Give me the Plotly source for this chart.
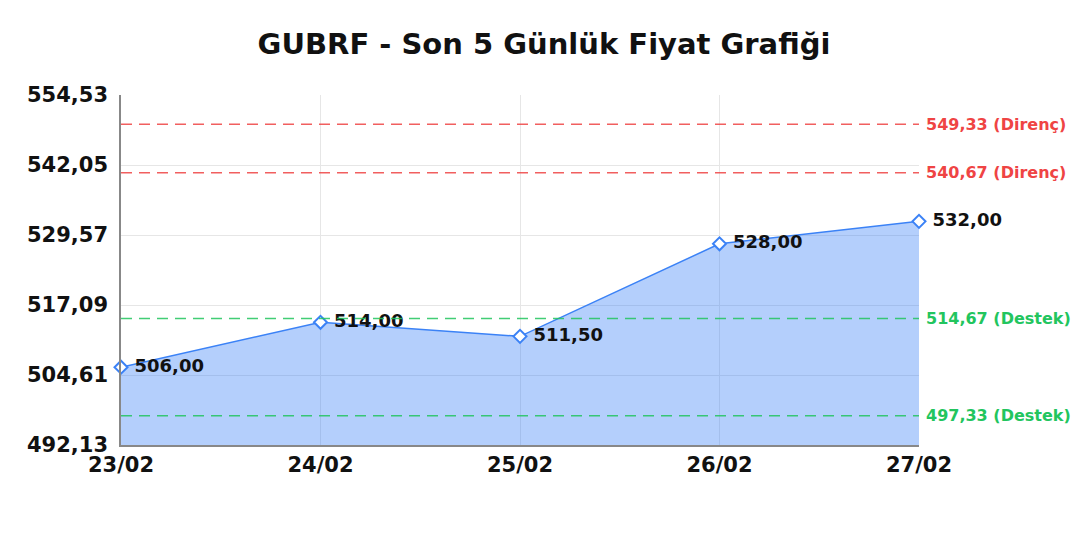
import plotly.graph_objects as go

dates = ["23/02", "24/02", "25/02", "26/02", "27/02"]
prices = [506.00, 514.00, 511.50, 528.00, 532.00]
price_labels = ["506,00", "514,00", "511,50", "528,00", "532,00"]

resistance_levels = [549.33, 540.67]
resistance_labels = ["549,33 (Direnç)", "540,67 (Direnç)"]
support_levels = [514.67, 497.33]
support_labels = ["514,67 (Destek)", "497,33 (Destek)"]

y_ticks = [492.13, 504.61, 517.09, 529.57, 542.05, 554.53]
y_tick_labels = ["492,13", "504,61", "517,09", "529,57", "542,05", "554,53"]

FONT = "DejaVu Sans"
BLUE = "#3b82f6"
RED = "#ef4444"
GREEN = "#22c55e"

fig = go.Figure()
fig.add_trace(go.Scatter(
    x=dates, y=prices,
    mode="lines+markers+text",
    line=dict(color=BLUE, width=1.5),
    fill="tozeroy",
    fillcolor="rgba(59,130,246,0.38)",
    marker=dict(symbol="diamond", size=10, color="white",
                line=dict(color=BLUE, width=2)),
    text=[" " + t for t in price_labels],
    textposition="middle right",
    textfont=dict(family=FONT, size=18, color="#111111", weight="bold"),
    hoverinfo="skip",
    cliponaxis=False,
))

for lv, lb in zip(resistance_levels, resistance_labels):
    fig.add_shape(type="line", xref="paper", x0=0, x1=1, yref="y", y0=lv, y1=lv,
                  line=dict(color=RED, width=1.5, dash="11px,7px"), opacity=0.85)
    fig.add_annotation(xref="paper", x=1, xanchor="left", xshift=5, yref="y", y=lv,
                       text=lb, showarrow=False,
                       font=dict(family=FONT, size=16, color=RED, weight="bold"))
for lv, lb in zip(support_levels, support_labels):
    fig.add_shape(type="line", xref="paper", x0=0, x1=1, yref="y", y0=lv, y1=lv,
                  line=dict(color=GREEN, width=1.5, dash="11px,7px"), opacity=0.85)
    fig.add_annotation(xref="paper", x=1, xanchor="left", xshift=5, yref="y", y=lv,
                       text=lb, showarrow=False,
                       font=dict(family=FONT, size=16, color=GREEN, weight="bold"))

fig.update_layout(
    width=1072, height=520,
    margin=dict(l=113, r=161, t=87, b=83),
    paper_bgcolor="white", plot_bgcolor="white",
    showlegend=False,
    title=dict(text="GUBRF - Son 5 Günlük Fiyat Grafiği", x=0.5, xanchor="center",
               y=1 - 36.0 / 520, yanchor="middle",
               font=dict(family=FONT, size=29, color="#111111", weight="bold")),
    xaxis=dict(
        type="category", range=[0, 4],
        showgrid=True, gridcolor="#e6e6e6", gridwidth=1,
        showline=True, linecolor="#888888", linewidth=1.5,
        ticks="", tickfont=dict(family=FONT, size=21, color="#111111", weight="bold"),
        fixedrange=True,
    ),
    yaxis=dict(
        range=[492.13, 554.53],
        tickvals=y_ticks, ticktext=y_tick_labels,
        showgrid=True, gridcolor="#e6e6e6", gridwidth=1,
        showline=True, linecolor="#888888", linewidth=1.5,
        zeroline=False,
        ticks="", ticklabelstandoff=7,
        tickfont=dict(family=FONT, size=21, color="#111111", weight="bold"),
        fixedrange=True,
    ),
)

fig.write_html("out.html")
